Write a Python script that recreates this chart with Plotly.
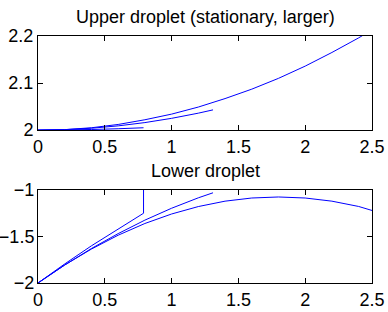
import plotly.graph_objects as go
from plotly.subplots import make_subplots

# Upper droplet trajectories
up_a_x = [0, 0.2, 0.4, 0.6, 0.8, 1.0, 1.2, 1.4, 1.6, 1.8, 2.0, 2.2, 2.4, 2.5]
up_a_y = [2.000, 2.001, 2.005, 2.012, 2.022, 2.034, 2.049, 2.067, 2.087, 2.110, 2.136, 2.165, 2.196, 2.213]
up_b_x = [0, 0.2, 0.4, 0.6, 0.8, 1.0, 1.2, 1.31]
up_b_y = [2.000, 2.001, 2.004, 2.009, 2.016, 2.025, 2.036, 2.043]
up_c_x = [0, 0.2, 0.4, 0.6, 0.79]
up_c_y = [2.000, 2.0003, 2.0013, 2.0029, 2.005]

# Lower droplet trajectories
lo_a_x = [0, 0.2, 0.4, 0.6, 0.8, 1.0, 1.2, 1.4, 1.6, 1.8, 2.0, 2.2, 2.4, 2.5]
lo_a_y = [-2.0, -1.806, -1.635, -1.486, -1.360, -1.258, -1.178, -1.120, -1.086, -1.075, -1.086, -1.120, -1.177, -1.220]
lo_b_x = [0, 0.2, 0.4, 0.6, 0.8, 1.0, 1.2, 1.31]
lo_b_y = [-2.0, -1.807, -1.629, -1.469, -1.324, -1.196, -1.084, -1.030]
lo_c_x = [0, 0.2, 0.4, 0.6, 0.79, 0.79]
lo_c_y = [-2.0, -1.795, -1.600, -1.416, -1.250, -0.900]

x_ticks = [0, 0.5, 1, 1.5, 2, 2.5]
x_tick_text = ["0", "0.5", "1", "1.5", "2", "2.5"]
up_y_ticks = [2, 2.1, 2.2]
up_y_text = ["2", "2.1", "2.2"]
lo_y_ticks = [-2, -1.5, -1]
lo_y_text = ["\u22122", "\u22121.5", "\u22121"]

titles = ["Upper droplet (stationary, larger)", "Lower droplet"]

fig = make_subplots(rows=2, cols=1)
line = dict(color="#0000ff", width=1)
for xs, ys in [(up_a_x, up_a_y), (up_b_x, up_b_y), (up_c_x, up_c_y)]:
    fig.add_trace(go.Scatter(x=xs, y=ys, mode="lines", line=line, showlegend=False), row=1, col=1)
for xs, ys in [(lo_a_x, lo_a_y), (lo_b_x, lo_b_y), (lo_c_x, lo_c_y)]:
    fig.add_trace(go.Scatter(x=xs, y=ys, mode="lines", line=line, showlegend=False), row=2, col=1)

font = dict(family="Liberation Sans, Arial, sans-serif", size=18, color="black")
axis_common = dict(showline=True, linecolor="black", linewidth=1, mirror="ticks",
                   ticks="inside", ticklen=5, tickcolor="black", showgrid=False,
                   zeroline=False, tickfont=font, automargin=False)

title_font = dict(family="Liberation Sans, Arial, sans-serif", size=18, color="black")

fig.update_layout(
    width=388, height=312,
    margin=dict(l=38, r=16, t=36, b=29),
    paper_bgcolor="white", plot_bgcolor="white",
    xaxis=dict(domain=[0, 1], range=[0, 2.5], tickvals=x_ticks, ticktext=x_tick_text, anchor="y", **axis_common),
    yaxis=dict(domain=[0.619, 1], range=[2, 2.2], tickvals=up_y_ticks, ticktext=up_y_text, anchor="x", **axis_common),
    xaxis2=dict(domain=[0, 1], range=[0, 2.5], tickvals=x_ticks, ticktext=x_tick_text, anchor="y2", **axis_common),
    yaxis2=dict(domain=[0, 0.3765], range=[-2, -1], tickvals=lo_y_ticks, ticktext=lo_y_text, anchor="x2",
                ticklabelstandoff=-1, **axis_common),
    annotations=[
        dict(text=titles[0], xref="paper", yref="paper", x=0.5, y=1, yshift=19, showarrow=False,
             font=title_font, yanchor="middle"),
        dict(text=titles[1], xref="paper", yref="paper", x=0.5, y=0.3765, yshift=19, showarrow=False,
             font=title_font, yanchor="middle"),
    ],
)

fig.write_html("out.html")
